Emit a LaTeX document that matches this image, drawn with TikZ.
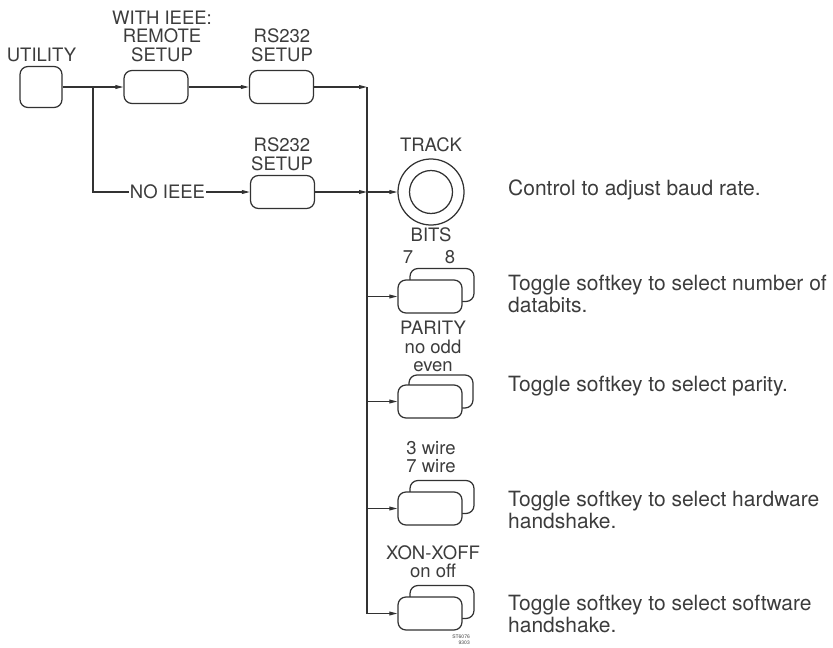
\documentclass[tikz,border=0pt]{standalone}
\usepackage{fontspec}
\setmainfont{TeX Gyre Heros}
\usetikzlibrary{arrows.meta,calc}
\definecolor{InkGray}{RGB}{50,50,50}
\definecolor{TextGray}{RGB}{60,60,60}
\tikzset{
  conn/.style={draw=InkGray,line width=1.1pt},
  arr/.style={-{Triangle[length=8pt,width=3.8pt]}},
  softkey/.style={draw=InkGray,fill=white,line width=1.25pt,rounded corners=8pt,
    minimum width=64pt,minimum height=33pt,inner sep=0pt},
  knobring/.style={circle,draw=InkGray,line width=1.25pt,inner sep=0pt},
  lbl/.style={text=TextGray,font=\fontsize{18.5}{18.5}\selectfont,align=center,
    inner sep=0pt,anchor=south},
  note/.style={text=TextGray,font=\fontsize{21}{22.5}\selectfont,align=left,
    inner sep=0pt,anchor=west},
}

\begin{document}
\begin{tikzpicture}[x=1pt,y=-1pt]
\useasboundingbox (0,0) rectangle (833,648);
% setup keys
\node[softkey,minimum width=42pt,minimum height=41pt] (util) at (41,87) {};
\node[lbl] (utillbl) at (41.5,62) {UTILITY};
\node[softkey] (remote) at (156,87) {};
\node[lbl] (remotelbl) at (162,62) {WITH IEEE:\\REMOTE\\SETUP};
\node[softkey] (rsa) at (281.5,87) {};
\node[lbl] (rsalbl) at (282,62) {RS232\\SETUP};
\node[softkey] (rsb) at (282.5,192) {};
\node[lbl] (rsblbl) at (282,171) {RS232\\SETUP};
\node[lbl,anchor=center,inner sep=1pt] (noieee) at (167.5,192) {NO IEEE};
% knob
\node[knobring,minimum size=66pt] (knob) at (431,192) {};
\node[knobring,minimum size=43pt] (knobin) at (knob.center) {};
\node[lbl] (tracklbl) at (431,152) {TRACK};
\node[lbl] (bitslbl) at (431,242) {BITS};
\node[lbl] (seven) at (408,264) {7};
\node[lbl] (eight) at (450,264) {8};
% toggle softkeys
\node[softkey] (bitsback) at (442,285) {};
\node[softkey] (bits) at (430,296.5) {};
\node[lbl] (paritylbl) at (433,372) {PARITY\\no odd\\even};
\node[softkey] (parityback) at (441,391.5) {};
\node[softkey] (parity) at (430,401.5) {};
\node[lbl] (wirelbl) at (431,473) {3 wire\\7 wire};
\node[softkey] (wireback) at (442,497) {};
\node[softkey] (wire) at (430,508.5) {};
\node[lbl] (xonlbl) at (433,578) {XON-XOFF\\on off};
\node[softkey] (xonback) at (442,602) {};
\node[softkey] (xon) at (430,613.5) {};
\node[text=TextGray,font=\fontsize{5}{5.5}\selectfont,align=right,inner sep=0pt,
  anchor=north east] (stamp) at (470,635) {ST6076\\9303};
% notes
\node[note] (knobnote) at (508,190) {Control to adjust baud rate.};
\node[note] (bitsnote) at (508,294) {Toggle softkey to select number of\\databits.};
\node[note] (paritynote) at (508,386) {Toggle softkey to select parity.};
\node[note] (wirenote) at (508,510) {Toggle softkey to select hardware\\handshake.};
\node[note] (xonnote) at (508,614) {Toggle softkey to select software\\handshake.};
% connectors
\coordinate (j1) at (93,87);
\coordinate (bt) at (367,87);
\draw[conn] (util.east) -- (j1);
\draw[conn,arr] (j1) -- (remote.west);
\draw[conn,arr] (remote.east) -- (rsa.west);
\draw[conn,arr] (rsa.east) -- (bt);
\draw[conn] (j1) |- (noieee.west);
\draw[conn,arr] (noieee.east) -- (rsb.west);
\draw[conn,arr] (rsb.east) -- (rsb.east -| bt);
\draw[conn,arr] (rsb.east -| bt) -- (knob.west);
\draw[conn,arr] (bt) |- (xon.west);
\foreach \k in {bits,parity,wire}
  \draw[conn,arr] (\k.west -| bt) -- (\k.west);
\end{tikzpicture}
\end{document}
